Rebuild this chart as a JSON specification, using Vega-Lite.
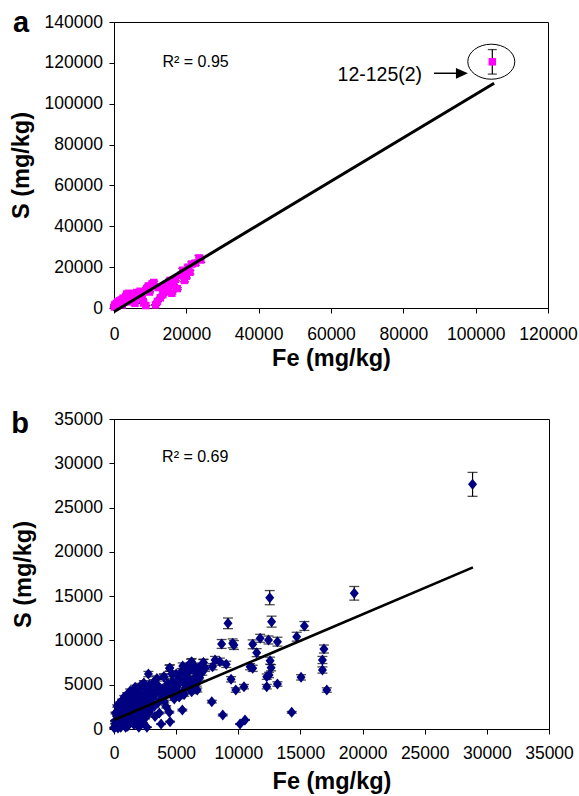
{
  "$schema": "https://vega.github.io/schema/vega-lite/v6.json",
  "background": "white",
  "padding": {"left": 8, "top": 8, "right": 0, "bottom": 0},
  "spacing": 111,
  "bounds": "flush",
  "config": {
    "view": {"stroke": "black", "strokeWidth": 1},
    "font": "Liberation Sans",
    "axis": {
      "labelFont": "Liberation Sans", "labelFontSize": 17.5, "labelColor": "black",
      "titleFont": "Liberation Sans", "titleFontSize": 23.5, "titleFontWeight": "bold", "titleColor": "black",
      "domainColor": "black", "tickColor": "black", "tickSize": 5, "grid": false, "labelFlush": false
    }
  },
  "datasets": {
    "a_pts": [
      {"Fe":100,"S":500,"e":30},{"Fe":200,"S":1500,"e":80},{"Fe":400,"S":800,"e":40},{"Fe":600,"S":2200,"e":110},
      {"Fe":800,"S":1200,"e":60},{"Fe":1000,"S":3000,"e":150},{"Fe":1200,"S":2000,"e":100},{"Fe":1500,"S":3500,"e":180},
      {"Fe":1700,"S":2600,"e":130},{"Fe":2000,"S":4000,"e":200},{"Fe":2300,"S":1500,"e":80},{"Fe":2500,"S":4800,"e":240},
      {"Fe":2800,"S":3200,"e":160},{"Fe":3200,"S":5500,"e":280},{"Fe":3500,"S":6800,"e":340},{"Fe":3800,"S":4200,"e":210},
      {"Fe":4000,"S":7200,"e":360},{"Fe":4500,"S":3000,"e":150},{"Fe":5000,"S":5600,"e":280},{"Fe":5500,"S":7000,"e":350},
      {"Fe":5800,"S":2300,"e":120},{"Fe":6200,"S":7600,"e":380},{"Fe":6800,"S":6000,"e":300},{"Fe":7200,"S":8200,"e":410},
      {"Fe":7800,"S":4500,"e":230},{"Fe":8200,"S":2500,"e":130},{"Fe":8800,"S":1200,"e":60},{"Fe":9000,"S":9500,"e":480},
      {"Fe":9500,"S":10800,"e":540},{"Fe":9800,"S":7800,"e":390},{"Fe":10500,"S":11800,"e":590},{"Fe":11000,"S":12500,"e":630},
      {"Fe":11500,"S":1500,"e":80},{"Fe":12000,"S":3200,"e":160},{"Fe":12200,"S":10000,"e":500},{"Fe":12800,"S":5000,"e":250},
      {"Fe":13500,"S":6500,"e":330},{"Fe":14000,"S":9800,"e":490},{"Fe":14500,"S":11500,"e":580},{"Fe":15000,"S":8000,"e":400},
      {"Fe":15500,"S":13500,"e":680},{"Fe":16000,"S":7200,"e":360},{"Fe":16500,"S":11000,"e":550},{"Fe":17000,"S":14000,"e":700},
      {"Fe":17500,"S":9500,"e":480},{"Fe":18500,"S":16000,"e":800},{"Fe":19000,"S":18500,"e":930},{"Fe":19500,"S":13500,"e":680},
      {"Fe":20000,"S":15500,"e":780},{"Fe":20500,"S":20000,"e":1000},{"Fe":21000,"S":17500,"e":880},{"Fe":21500,"S":21500,"e":1080},
      {"Fe":22500,"S":22000,"e":1100},{"Fe":23500,"S":24500,"e":1230},{"Fe":24000,"S":23500,"e":1180},
      {"Fe":104600,"S":120500,"e":6000}
    ],
    "a_line": [{"Fe":0,"S":-1800},{"Fe":105100,"S":110000}],
    "b_pts": [
      {"Fe":28850,"S":27620,"e":1350},{"Fe":19330,"S":15320,"e":770},{"Fe":12530,"S":14830,"e":800},{"Fe":12680,"S":12120,"e":620},
      {"Fe":9170,"S":11930,"e":600},{"Fe":15320,"S":11630,"e":500},{"Fe":14700,"S":10420,"e":500},{"Fe":11760,"S":10240,"e":450},
      {"Fe":12430,"S":10050,"e":450},{"Fe":13150,"S":9860,"e":500},{"Fe":11160,"S":9560,"e":500},{"Fe":9550,"S":9670,"e":500},
      {"Fe":9650,"S":9480,"e":500},{"Fe":8660,"S":9600,"e":500},{"Fe":16890,"S":9030,"e":450},{"Fe":11480,"S":8620,"e":450},
      {"Fe":12560,"S":7710,"e":400},{"Fe":16770,"S":7790,"e":400},{"Fe":16770,"S":6660,"e":350},{"Fe":8520,"S":7600,"e":400},
      {"Fe":9030,"S":7300,"e":350},{"Fe":7930,"S":7040,"e":350},{"Fe":7190,"S":7490,"e":350},{"Fe":6250,"S":7600,"e":350},
      {"Fe":10950,"S":7040,"e":350},{"Fe":11160,"S":6850,"e":350},{"Fe":12640,"S":6920,"e":350},{"Fe":12480,"S":6100,"e":300},
      {"Fe":12290,"S":5910,"e":300},{"Fe":9420,"S":5610,"e":300},{"Fe":15050,"S":5830,"e":300},{"Fe":13150,"S":5080,"e":250},
      {"Fe":12290,"S":4780,"e":250},{"Fe":10460,"S":4780,"e":250},{"Fe":9800,"S":4400,"e":250},{"Fe":17120,"S":4400,"e":250},
      {"Fe":7870,"S":3090,"e":150},{"Fe":8750,"S":1580,"e":100},{"Fe":14300,"S":1880,"e":100},{"Fe":10140,"S":560,"e":50},
      {"Fe":10540,"S":1020,"e":50},{"Fe":3790,"S":560,"e":50},{"Fe":4510,"S":830,"e":50},{"Fe":5500,"S":2140,"e":100},
      {"Fe":8130,"S":7790,"e":400},{"Fe":5530,"S":7110,"e":350},{"Fe":4460,"S":6850,"e":350},{"Fe":4030,"S":5910,"e":300},
      {"Fe":2770,"S":6200,"e":300},{"Fe":7330,"S":6850,"e":350},{"Fe":6340,"S":4780,"e":250},
      {"Fe":50,"S":200,"e":20},{"Fe":100,"S":600,"e":30},{"Fe":150,"S":1000,"e":50},{"Fe":200,"S":300,"e":20},{"Fe":250,"S":1500,"e":80},
      {"Fe":300,"S":800,"e":40},{"Fe":350,"S":2000,"e":100},{"Fe":400,"S":1200,"e":60},{"Fe":450,"S":400,"e":20},{"Fe":500,"S":2500,"e":130},
      {"Fe":550,"S":1700,"e":90},{"Fe":600,"S":900,"e":50},{"Fe":650,"S":2200,"e":110},{"Fe":700,"S":3000,"e":150},{"Fe":750,"S":1400,"e":70},
      {"Fe":800,"S":600,"e":30},{"Fe":850,"S":2600,"e":130},{"Fe":900,"S":1900,"e":100},{"Fe":950,"S":3400,"e":170},{"Fe":1000,"S":1100,"e":60},
      {"Fe":1050,"S":2300,"e":120},{"Fe":1100,"S":300,"e":20},{"Fe":1150,"S":2900,"e":150},{"Fe":1200,"S":1600,"e":80},{"Fe":1250,"S":3700,"e":190},
      {"Fe":1300,"S":800,"e":40},{"Fe":1350,"S":2100,"e":110},{"Fe":1400,"S":4000,"e":200},{"Fe":1450,"S":2700,"e":140},{"Fe":1500,"S":1300,"e":70},
      {"Fe":1550,"S":3300,"e":170},{"Fe":1600,"S":500,"e":30},{"Fe":1650,"S":2400,"e":120},{"Fe":1700,"S":4700,"e":240},{"Fe":1750,"S":1900,"e":100},
      {"Fe":1800,"S":3600,"e":180},{"Fe":1850,"S":1000,"e":50},{"Fe":1900,"S":2900,"e":150},{"Fe":1950,"S":4300,"e":220},{"Fe":2000,"S":200,"e":20},
      {"Fe":2050,"S":3200,"e":160},{"Fe":2100,"S":1500,"e":80},{"Fe":2150,"S":4900,"e":250},{"Fe":2200,"S":2600,"e":130},{"Fe":2250,"S":3800,"e":190},
      {"Fe":2300,"S":700,"e":40},{"Fe":2350,"S":2100,"e":110},{"Fe":2400,"S":5200,"e":260},{"Fe":2450,"S":3400,"e":170},{"Fe":2500,"S":1200,"e":60},
      {"Fe":2550,"S":4500,"e":230},{"Fe":2600,"S":2800,"e":140},{"Fe":2650,"S":200,"e":20},{"Fe":2700,"S":3900,"e":200},{"Fe":2800,"S":1800,"e":90},
      {"Fe":2850,"S":5000,"e":250},{"Fe":2900,"S":3000,"e":150},{"Fe":2950,"S":4200,"e":210},{"Fe":3000,"S":2300,"e":120},{"Fe":3100,"S":3500,"e":180},
      {"Fe":3200,"S":5300,"e":270},{"Fe":3300,"S":1400,"e":70},{"Fe":3400,"S":4100,"e":210},{"Fe":3500,"S":2900,"e":150},{"Fe":3600,"S":4800,"e":240},
      {"Fe":3700,"S":3300,"e":170},{"Fe":3900,"S":4500,"e":230},{"Fe":4000,"S":5900,"e":300},{"Fe":4100,"S":3700,"e":190},{"Fe":4200,"S":2500,"e":130},
      {"Fe":4300,"S":5100,"e":260},{"Fe":4400,"S":4300,"e":220},{"Fe":4500,"S":6900,"e":350},{"Fe":4600,"S":3900,"e":200},{"Fe":4700,"S":5400,"e":270},
      {"Fe":4800,"S":4600,"e":230},{"Fe":5000,"S":6200,"e":310},{"Fe":5100,"S":4900,"e":250},{"Fe":5200,"S":4200,"e":210},{"Fe":5300,"S":5600,"e":280},
      {"Fe":5600,"S":5200,"e":260},{"Fe":5700,"S":4500,"e":230},{"Fe":5800,"S":6000,"e":300},{"Fe":5900,"S":5500,"e":280},{"Fe":6000,"S":4800,"e":240},
      {"Fe":6100,"S":6600,"e":330},{"Fe":6200,"S":7500,"e":380},{"Fe":6300,"S":5100,"e":260},{"Fe":6400,"S":4600,"e":230},{"Fe":6500,"S":5800,"e":290},
      {"Fe":6600,"S":6300,"e":320},{"Fe":6700,"S":4400,"e":220},{"Fe":6800,"S":6900,"e":350},{"Fe":7000,"S":7000,"e":350},{"Fe":7200,"S":7500,"e":380},
      {"Fe":20,"S":100,"e":10},{"Fe":80,"S":900,"e":50},{"Fe":120,"S":1800,"e":90},{"Fe":180,"S":400,"e":20},{"Fe":260,"S":2600,"e":130},
      {"Fe":320,"S":100,"e":10},{"Fe":380,"S":1500,"e":80},{"Fe":420,"S":2900,"e":150},{"Fe":480,"S":700,"e":40},{"Fe":540,"S":200,"e":10},
      {"Fe":580,"S":1900,"e":100},{"Fe":640,"S":3200,"e":160},{"Fe":700,"S":500,"e":30},{"Fe":760,"S":2100,"e":110},{"Fe":820,"S":3600,"e":180},
      {"Fe":880,"S":1300,"e":70},{"Fe":940,"S":200,"e":10},{"Fe":1000,"S":2700,"e":140},{"Fe":1060,"S":3900,"e":200},{"Fe":1120,"S":1700,"e":90},
      {"Fe":1180,"S":600,"e":30},{"Fe":1240,"S":2500,"e":130},{"Fe":1300,"S":4300,"e":220},{"Fe":1380,"S":1000,"e":50},{"Fe":1440,"S":3100,"e":160},
      {"Fe":3050,"S":4700,"e":240},{"Fe":3250,"S":2600,"e":130},{"Fe":3450,"S":5700,"e":290},{"Fe":3650,"S":1800,"e":90},{"Fe":3850,"S":3900,"e":200},
      {"Fe":4050,"S":3100,"e":160},{"Fe":4250,"S":4700,"e":240},{"Fe":4450,"S":1900,"e":100},{"Fe":4650,"S":6200,"e":310},{"Fe":4850,"S":3400,"e":170},
      {"Fe":5050,"S":5300,"e":270},{"Fe":5250,"S":3600,"e":180},{"Fe":5450,"S":6500,"e":330},{"Fe":5650,"S":3900,"e":200},{"Fe":5850,"S":7000,"e":350},
      {"Fe":6050,"S":5600,"e":280},{"Fe":6250,"S":4200,"e":210},{"Fe":6450,"S":7100,"e":360},{"Fe":6650,"S":5100,"e":260},{"Fe":6900,"S":5800,"e":290},
      {"Fe":7100,"S":6400,"e":320}
    ],
    "b_line": [{"Fe":0,"S":1016},{"Fe":28880,"S":18250}],
    "a_ann": [{"label": "12-125(2)"}],
    "a_r2": [{"label": "R² = 0.95"}],
    "a_tag": [{"label": "a"}],
    "b_r2": [{"label": "R² = 0.69"}],
    "b_tag": [{"label": "b"}],
    "one": [{"k": 1}]
  },
  "vconcat": [
    {
      "width": 434,
      "height": 286,
      "layer": [
        {"data": {"name": "a_pts"},
         "mark": {"type": "errorbar", "color": "black", "ticks": {"size": 9, "thickness": 1.3}, "rule": {"strokeWidth": 1.2}},
         "encoding": {
           "x": {"field": "Fe", "type": "quantitative",
                 "scale": {"domain": [0, 120000], "nice": false, "zero": false},
                 "axis": {"values": [0,20000,40000,60000,80000,100000,120000], "format": "d", "title": "Fe (mg/kg)", "labelPadding": 12, "titlePadding": 4}},
           "y": {"field": "S", "type": "quantitative",
                 "scale": {"domain": [0, 140000], "nice": false, "zero": false},
                 "axis": {"values": [0,20000,40000,60000,80000,100000,120000,140000], "format": "d", "title": "S (mg/kg)", "labelPadding": 6.5, "titlePadding": 11}},
           "yError": {"field": "e"}}},
        {"data": {"name": "a_pts"},
         "mark": {"type": "square", "size": 56, "filled": true, "color": "#FF00FF", "opacity": 1},
         "encoding": {"x": {"field": "Fe", "type": "quantitative"}, "y": {"field": "S", "type": "quantitative"}}},
        {"data": {"name": "a_line"},
         "mark": {"type": "line", "color": "black", "strokeWidth": 3},
         "encoding": {"x": {"field": "Fe", "type": "quantitative"}, "y": {"field": "S", "type": "quantitative"}}},
        {"data": {"name": "one"},
         "mark": {"type": "point", "shape": "M-1,0A1,0.745,0,1,1,1,0A1,0.745,0,1,1,-1,0Z", "size": 2209, "filled": false, "stroke": "black", "strokeWidth": 1, "opacity": 1},
         "encoding": {"x": {"datum": 104320, "type": "quantitative"}, "y": {"datum": 120560, "type": "quantitative"}}},
        {"data": {"name": "one"},
         "mark": {"type": "rule", "color": "black", "strokeWidth": 1.5},
         "encoding": {"x": {"datum": 88480, "type": "quantitative"}, "x2": {"datum": 95500}, "y": {"datum": 114900, "type": "quantitative"}}},
        {"data": {"name": "one"},
         "mark": {"type": "point", "shape": "M1,0L-1,0.9L-1,-0.9Z", "size": 144, "filled": true, "color": "black", "opacity": 1},
         "encoding": {"x": {"datum": 96200, "type": "quantitative"}, "y": {"datum": 114900, "type": "quantitative"}}},
        {"data": {"name": "a_ann"},
         "mark": {"type": "text", "fontSize": 19.5, "align": "center", "baseline": "middle", "color": "black"},
         "encoding": {"text": {"field": "label"}, "x": {"datum": 73500, "type": "quantitative"}, "y": {"datum": 114050, "type": "quantitative"}}},
        {"data": {"name": "a_r2"},
         "mark": {"type": "text", "fontSize": 16, "align": "left", "baseline": "middle", "color": "black"},
         "encoding": {"text": {"field": "label"}, "x": {"datum": 13400, "type": "quantitative"}, "y": {"datum": 120560, "type": "quantitative"}}},
        {"data": {"name": "a_tag"},
         "mark": {"type": "text", "fontSize": 29, "fontWeight": "bold", "align": "left", "baseline": "alphabetic", "color": "black"},
         "encoding": {"text": {"field": "label"}, "x": {"datum": -27900, "type": "quantitative"}, "y": {"datum": 135100, "type": "quantitative"}}}
      ]
    },
    {
      "width": 435,
      "height": 310,
      "layer": [
        {"data": {"name": "b_pts"},
         "mark": {"type": "errorbar", "color": "black", "ticks": {"size": 10, "thickness": 1.3}, "rule": {"strokeWidth": 1.2}},
         "encoding": {
           "x": {"field": "Fe", "type": "quantitative",
                 "scale": {"domain": [0, 35000], "nice": false, "zero": false},
                 "axis": {"values": [0,5000,10000,15000,20000,25000,30000,35000], "format": "d", "title": "Fe (mg/kg)", "labelPadding": 10, "titlePadding": 8}},
           "y": {"field": "S", "type": "quantitative",
                 "scale": {"domain": [0, 35000], "nice": false, "zero": false},
                 "axis": {"values": [0,5000,10000,15000,20000,25000,30000,35000], "format": "d", "title": "S (mg/kg)", "labelPadding": 6.5, "titlePadding": 18}},
           "yError": {"field": "e"}}},
        {"data": {"name": "b_pts"},
         "mark": {"type": "point", "shape": "M0,-1L0.82,0L0,1L-0.82,0Z", "size": 121, "filled": true, "color": "#000080", "opacity": 1},
         "encoding": {"x": {"field": "Fe", "type": "quantitative"}, "y": {"field": "S", "type": "quantitative"}}},
        {"data": {"name": "b_line"},
         "mark": {"type": "line", "color": "black", "strokeWidth": 2.6},
         "encoding": {"x": {"field": "Fe", "type": "quantitative"}, "y": {"field": "S", "type": "quantitative"}}},
        {"data": {"name": "b_r2"},
         "mark": {"type": "text", "fontSize": 16, "align": "left", "baseline": "middle", "color": "black"},
         "encoding": {"text": {"field": "label"}, "x": {"datum": 3870, "type": "quantitative"}, "y": {"datum": 30740, "type": "quantitative"}}},
        {"data": {"name": "b_tag"},
         "mark": {"type": "text", "fontSize": 29, "fontWeight": "bold", "align": "left", "baseline": "alphabetic", "color": "black"},
         "encoding": {"text": {"field": "label"}, "x": {"datum": -8260, "type": "quantitative"}, "y": {"datum": 33420, "type": "quantitative"}}}
      ]
    }
  ]
}
